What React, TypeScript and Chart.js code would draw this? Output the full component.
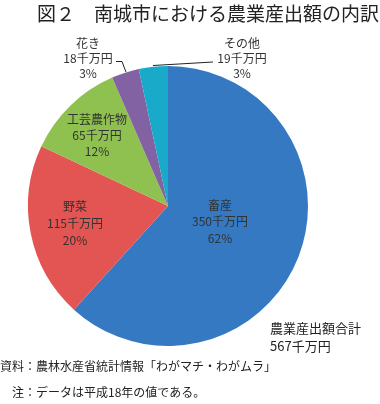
import React, { useEffect, useRef } from "react";
import { Chart, registerables } from "chart.js";

Chart.register(...registerables);

const title = "図２　南城市における農業産出額の内訳";
const categories = ["畜産", "野菜", "工芸農作物", "花き", "その他"];
const values = [350, 115, 65, 18, 19];
const percentLabels = ["62%", "20%", "12%", "3%", "3%"];
const unit = "千万円";
const colors = ["#3479c2", "#e35553", "#8fc150", "#8362a4", "#19a9c9"];
const totalLabel = "農業産出額合計";
const totalValue = 567;
const sourceNote = "資料：農林水産省統計情報「わがマチ・わがムラ」";
const dataNote = "注：データは平成18年の値である。";

const FONT = '"Noto Sans CJK JP", "Noto Sans", sans-serif';

// label anchor positions (layout only)
const labelPos: [number, number, number][] = [
  [220, 205, 16.5],
  [75, 206, 17],
  [97, 119, 16],
  [88, 43, 15],
  [242, 43, 15],
];

const labelsPlugin = {
  id: "customLabels",
  afterDraw(chart: any) {
    const ctx = chart.ctx as CanvasRenderingContext2D;
    ctx.save();
    // title
    ctx.fillStyle = "#222";
    ctx.font = `19px ${FONT}`;
    ctx.textAlign = "left";
    ctx.textBaseline = "middle";
    ctx.fillText(title, 37, 14);

    // slice labels
    ctx.textAlign = "center";
    categories.forEach((c, i) => {
      const [x, y, dy] = labelPos[i];
      const inside = i < 3;
      ctx.fillStyle = inside ? "#333" : "#333";
      ctx.font = `12px ${FONT}`;
      ctx.fillText(c, x, y);
      ctx.fillText(`${values[i]}${unit}`, x, y + dy);
      ctx.fillText(percentLabels[i], x, y + 2 * dy);
    });

    // leader lines
    ctx.strokeStyle = "#222";
    ctx.lineWidth = 1;
    ctx.beginPath();
    ctx.moveTo(116, 61.5);
    ctx.lineTo(122, 61.5);
    ctx.lineTo(126, 72);
    ctx.stroke();
    ctx.beginPath();
    ctx.moveTo(153, 65.5);
    ctx.lineTo(213, 62);
    ctx.stroke();

    // total
    ctx.textAlign = "left";
    ctx.fillStyle = "#222";
    ctx.font = `13px ${FONT}`;
    ctx.fillText(totalLabel, 270, 328);
    ctx.fillText(`${totalValue}${unit}`, 270, 346);

    // notes
    ctx.font = `12px ${FONT}`;
    ctx.fillText(sourceNote, 0, 366);
    ctx.fillText(dataNote, 12, 392);
    ctx.restore();
  },
};

export default function App() {
  const ref = useRef<HTMLCanvasElement | null>(null);
  useEffect(() => {
    if (!ref.current) return;
    const chart = new Chart(ref.current, {
      type: "pie",
      data: {
        labels: categories,
        datasets: [
          {
            data: values,
            backgroundColor: colors,
            borderWidth: 0,
          },
        ],
      },
      options: {
        responsive: false,
        animation: false,
        devicePixelRatio: 1,
        layout: { padding: { left: 28, right: 72, top: 66, bottom: 58 } },
        plugins: {
          legend: { display: false },
          tooltip: { enabled: false },
          title: { display: false },
        },
      },
      plugins: [labelsPlugin],
    });
    return () => chart.destroy();
  }, []);
  return (
    <div style={{ position: "fixed", left: 0, top: 0, width: 380, height: 404, background: "#fff" }}>
      <canvas ref={ref} width={380} height={404} style={{ width: 380, height: 404 }} />
    </div>
  );
}
